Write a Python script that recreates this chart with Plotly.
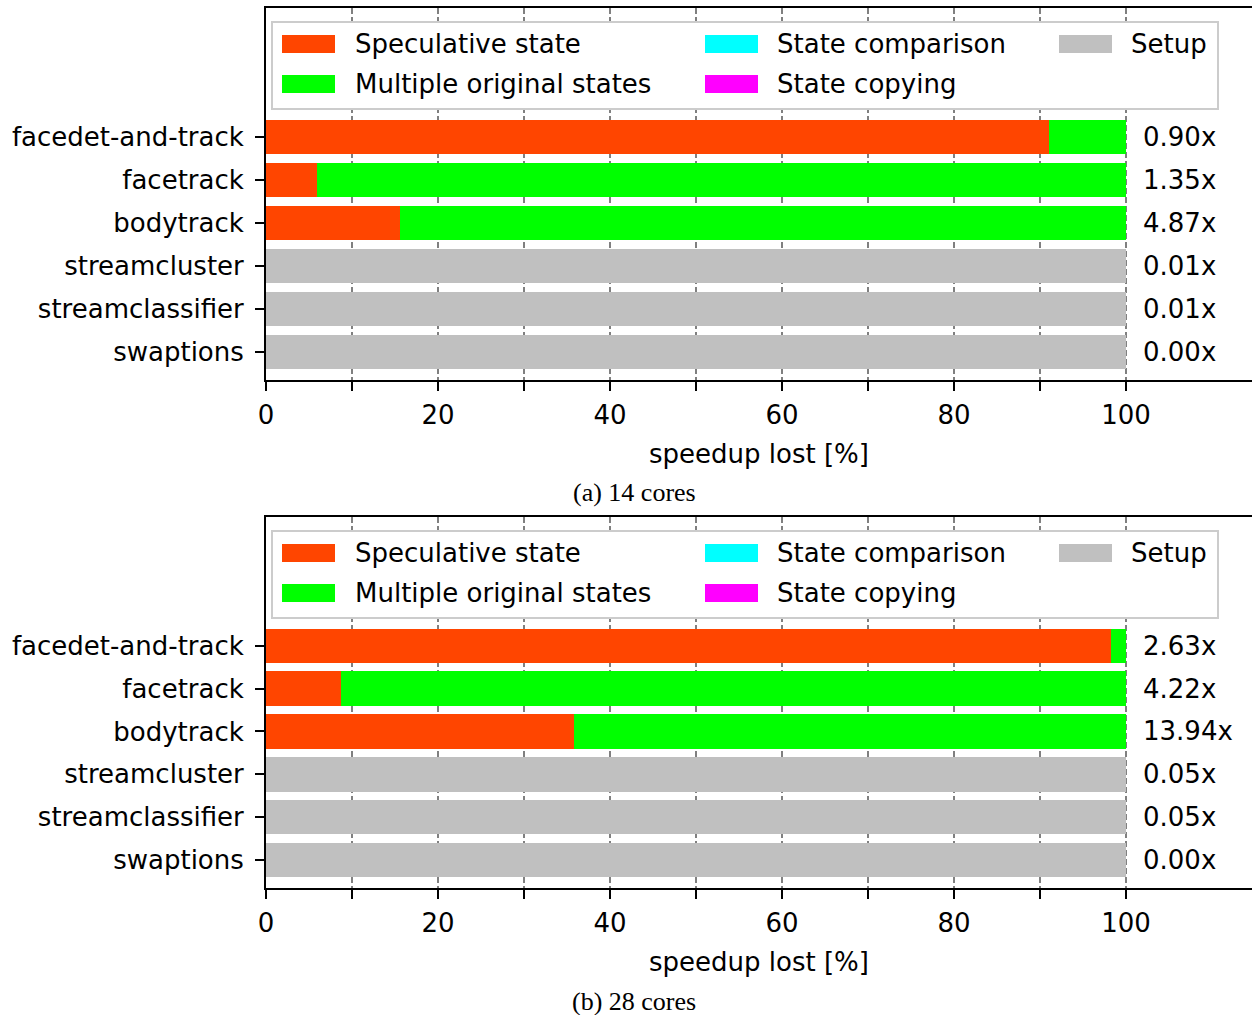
import plotly.graph_objects as go

# ---------------- data ----------------
benchmarks = ["facedet-and-track", "facetrack", "bodytrack",
              "streamcluster", "streamclassifier", "swaptions"]
series_names = ["Speculative state", "Multiple original states",
                "State comparison", "State copying", "Setup"]
series_colors = ["#ff4500", "#00ff00", "#00ffff", "#ff00ff", "#c0c0c0"]

# (a) 14 cores
spec_14 = [91.0, 5.9, 15.6, 0, 0, 0]
multi_14 = [9.0, 94.1, 84.4, 0, 0, 0]
comp_14 = [0, 0, 0, 0, 0, 0]
copy_14 = [0, 0, 0, 0, 0, 0]
setup_14 = [0, 0, 0, 100, 100, 100]
speedup_14 = ["0.90x", "1.35x", "4.87x", "0.01x", "0.01x", "0.00x"]

# (b) 28 cores
spec_28 = [98.3, 8.7, 35.8, 0, 0, 0]
multi_28 = [1.7, 91.3, 64.2, 0, 0, 0]
comp_28 = [0, 0, 0, 0, 0, 0]
copy_28 = [0, 0, 0, 0, 0, 0]
setup_28 = [0, 0, 0, 100, 100, 100]
speedup_28 = ["2.63x", "4.22x", "13.94x", "0.05x", "0.05x", "0.00x"]

x_tickvals = [0, 10, 20, 30, 40, 50, 60, 70, 80, 90, 100]
x_ticktext = ["0", "", "20", "", "40", "", "60", "", "80", "", "100"]
captions = ["(a) 14 cores", "(b) 28 cores"]
x_title = "speedup lost [%]"

# ---------------- layout helpers ----------------
W, H = 1252, 1015
FONT = "DejaVu Sans"
FS = 26


def px(x):
    return x / W


def py(y):
    return 1 - y / H


ypos = [5, 4, 3, 2, 1, 0]  # facedet at top
panels = [
    dict(vals=[spec_14, multi_14, comp_14, copy_14, setup_14], speed=speedup_14,
         top=8, bottom=380, cap_y=492, xa="x", ya="y"),
    dict(vals=[spec_28, multi_28, comp_28, copy_28, setup_28], speed=speedup_28,
         top=517, bottom=888, cap_y=1001, xa="x2", ya="y2"),
]

fig = go.Figure()
annotations = []
shapes = []

for pi, p in enumerate(panels):
    for name, color, vals in zip(series_names, series_colors, p["vals"]):
        fig.add_trace(go.Bar(
            x=vals, y=ypos, orientation="h", name=name,
            marker=dict(color=color, line=dict(width=0)),
            width=0.8, xaxis=p["xa"], yaxis=p["ya"], showlegend=False,
            hoverinfo="x+name",
        ))
    # speedup labels
    for yv, txt in zip(ypos, p["speed"]):
        annotations.append(dict(
            x=101.75, y=yv, xref=p["xa"], yref=p["ya"], text=txt,
            showarrow=False, xanchor="left", yanchor="middle",
            font=dict(family=FONT, size=FS, color="black"),
        ))
    # caption
    annotations.append(dict(
        x=px(634), y=py(p["cap_y"]), xref="paper", yref="paper",
        text=captions[pi], showarrow=False, xanchor="center", yanchor="middle",
        font=dict(family="Liberation Serif", size=26, color="black"),
    ))
    # manual legend (matplotlib style, 3 columns, column-major)
    off = p["top"] - 8
    shapes.append(dict(
        type="rect", xref="paper", yref="paper", layer="above",
        x0=px(272), x1=px(1218), y0=py(22 + off), y1=py(109 + off),
        fillcolor="white", line=dict(color="#cccccc", width=2),
    ))
    col_patch_x = [282, 705, 1059]
    col_text_x = [353, 775, 1129]
    row_y = [44, 84]
    for i, (name, color) in enumerate(zip(series_names, series_colors)):
        c, r = i // 2, i % 2
        yc = row_y[r] + off
        shapes.append(dict(
            type="rect", xref="paper", yref="paper", layer="above",
            x0=px(col_patch_x[c]), x1=px(col_patch_x[c] + 53),
            y0=py(yc - 9), y1=py(yc + 9),
            fillcolor=color, line=dict(width=0),
        ))
        annotations.append(dict(
            x=px(col_text_x[c]), y=py(yc), xref="paper", yref="paper",
            text=name, showarrow=False, xanchor="left", yanchor="middle",
            font=dict(family=FONT, size=FS, color="black"),
        ))

xmax = (W - 266) / 8.6

xaxis_common = dict(
    range=[0, xmax], tickvals=x_tickvals, ticktext=x_ticktext,
    showline=True, linecolor="black", linewidth=2, mirror=True,
    ticks="outside", ticklen=9, tickwidth=2, tickcolor="black",
    showgrid=True, gridcolor="#808080", gridwidth=2, griddash="6px,3px",
    zeroline=False, automargin=False, ticklabelstandoff=2,
    tickfont=dict(family=FONT, size=FS, color="black"),
    title=dict(text=x_title, font=dict(family=FONT, size=FS, color="black"),
               standoff=16),
)
yaxis_common = dict(
    range=[-0.65, 8.0], tickvals=ypos, ticktext=benchmarks,
    showline=True, linecolor="black", linewidth=2,
    ticks="outside", ticklen=9, tickwidth=2, tickcolor="black",
    showgrid=False, zeroline=False, ticklabelstandoff=6, automargin=False,
    tickfont=dict(family=FONT, size=FS, color="black"),
)

fig.update_layout(
    width=W, height=H, autosize=False,
    margin=dict(l=0, r=0, t=0, b=0, pad=0),
    paper_bgcolor="white", plot_bgcolor="white",
    barmode="stack", bargap=0.2,
    showlegend=False,
    xaxis=dict(domain=[px(266), 1.0], anchor="y", **xaxis_common),
    yaxis=dict(domain=[py(380), py(8)], anchor="x", **yaxis_common),
    xaxis2=dict(domain=[px(266), 1.0], anchor="y2", **xaxis_common),
    yaxis2=dict(domain=[py(888), py(517)], anchor="x2", **yaxis_common),
    annotations=annotations,
    shapes=shapes,
)

post = ("document.body.style.margin='0';"
        "document.body.style.overflow='hidden';"
        "var gd=document.getElementById('{plot_id}');"
        "Plotly.relayout(gd,{width:1252,height:1015});")

fig.write_html("out.html", config={"displayModeBar": False, "responsive": False},
               post_script=post)
